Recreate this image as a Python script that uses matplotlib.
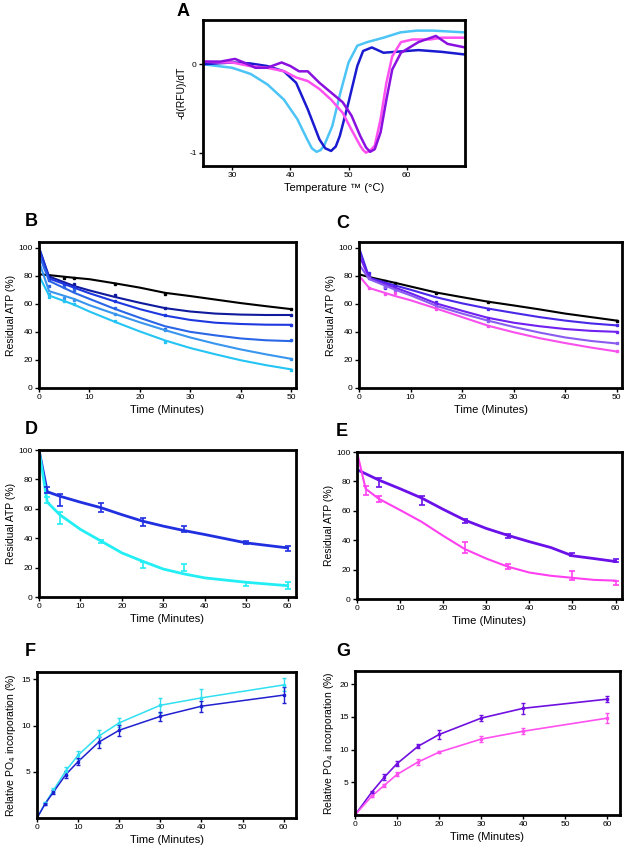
import matplotlib
matplotlib.use('Agg')
import matplotlib.pyplot as plt

plt.rcParams['font.family'] = ['Liberation Sans', 'DejaVu Sans']

# ---------------- panel A : melt curves ----------------
tA_lblue = [25, 30, 33.2, 36.1, 38.9, 41.2, 42.9, 43.7, 44.5, 45.2, 45.8, 47.2, 48.6, 50, 51.5, 53.2, 56, 58.9, 61.7, 64.5, 70]
yA_lblue = [0, -0.04, -0.11, -0.23, -0.40, -0.62, -0.85, -0.95, -0.99, -0.97, -0.92, -0.70, -0.32, 0.02, 0.21, 0.25, 0.30, 0.36, 0.38, 0.38, 0.36]
tA_blue = [25, 30, 33, 36, 38.9, 41, 43, 45, 46, 47, 47.8, 48.5, 50, 51.5, 52.5, 54, 56, 58, 62, 66, 70]
yA_blue = [0, 0.02, 0.01, -0.02, -0.08, -0.21, -0.51, -0.85, -0.95, -0.98, -0.93, -0.81, -0.43, -0.02, 0.15, 0.19, 0.13, 0.14, 0.16, 0.14, 0.11]
tA_purple = [25, 28, 30.5, 32, 34, 36, 38.5, 40, 41.5, 43, 45, 47, 49, 50.5, 52, 53, 53.7, 54.5, 55.5, 56.5, 57.5, 59, 62, 65, 67, 70]
yA_purple = [0.03, 0.03, 0.06, 0.02, -0.04, -0.04, 0.02, -0.02, -0.08, -0.08, -0.21, -0.32, -0.43, -0.58, -0.81, -0.94, -0.99, -0.96, -0.77, -0.40, -0.06, 0.13, 0.25, 0.32, 0.23, 0.19]
tA_pink = [25, 28, 30, 33, 36, 39, 41, 43, 45, 47, 49, 50.5, 52, 52.5, 53, 53.8, 54.5, 55.5, 56.5, 57.5, 59, 61, 64, 66, 70]
yA_pink = [0.03, 0.02, 0.02, -0.02, -0.04, -0.08, -0.15, -0.19, -0.28, -0.40, -0.55, -0.74, -0.92, -0.97, -1.0, -0.97, -0.92, -0.62, -0.21, 0.09, 0.25, 0.28, 0.28, 0.30, 0.30]

# ---------------- panel B ----------------
tB_fit = [0, 2, 7, 10, 15, 20, 25, 30, 35, 40, 45, 50]
yB_fit = {
    'black': [81, 80.4, 78.5, 77.5, 74.6, 71.5, 67.8, 65.5, 63, 60.5, 58.3, 56.2],
    'navy':  [100, 79.4, 72.6, 69.5, 64.9, 60.7, 56.9, 54.5, 53, 52.3, 52, 52],
    'blue':  [100, 78, 71.4, 67.5, 61.7, 56.2, 51.6, 48.5, 46.5, 45.6, 45.1, 45],
    'mid':   [95, 76.3, 67.8, 63.5, 56.4, 50, 44, 40, 37.5, 35.3, 34, 33.4],
    'azure': [90, 69, 63.4, 59, 52.8, 46.8, 41.2, 36, 31.5, 27.5, 24, 20.8],
    'cyan':  [80, 65.9, 59.3, 54.5, 47.2, 40.3, 33.9, 28.5, 24, 19.8, 16.3, 13.3],
}
tB_pts = [2, 5, 7, 15, 25, 50]
yB_pts = {
    'black': [80, 78, 78, 74, 67, 56],
    'navy':  [79, 75, 74, 66, 57, 52],
    'blue':  [77, 74, 72, 62, 52, 45],
    'mid':   [73, 72, 70, 57, 42, 34],
    'azure': [67, 64, 63, 53, 41, 21],
    'cyan':  [65, 62, 60, 48, 33, 13],
}

# ---------------- panel C ----------------
tC_fit = [0, 2, 7, 10, 15, 20, 25, 30, 35, 40, 45, 50]
yC_fit = {
    'black':  [81, 79, 74.9, 72.3, 68, 64.7, 61.5, 58.8, 56, 53, 50.5, 48],
    'violet': [100, 78.5, 73, 70, 64.6, 60.3, 56.6, 53.5, 50.5, 48, 46, 44.6],
    'purple': [95, 78, 71.5, 67.5, 60.2, 55, 50, 46.5, 44, 42, 40.7, 40],
    'lilac':  [88, 77.5, 70, 66, 58.5, 53, 48, 43.5, 39.5, 36, 33.5, 31.7],
    'pink':   [80, 71.2, 65.5, 62.5, 56.6, 50.5, 44.4, 39.7, 35.5, 32, 28.8, 26],
}
tC_pts = [2, 5, 7, 15, 25, 50]
yC_pts = {
    'black':  [79, 76, 75, 68, 61, 48],
    'violet': [82, 71, 72, 61, 56, 45],
    'purple': [80, 72, 71, 60, 50, 40],
    'lilac':  [78, 72, 70, 58, 48, 32],
    'pink':   [71, 67, 68, 56, 44, 26],
}

# ---------------- panel D ----------------
tD_fit = [0, 2, 5, 10, 15, 20, 25, 30, 35, 40, 50, 60]
yD_navy_fit = [100, 71.6, 68.6, 64.5, 60.7, 56, 51.6, 48.2, 45.2, 42.5, 36.8, 33.4]
yD_cyan_fit = [100, 64.5, 56, 46, 38, 30, 24.3, 19, 15.7, 13, 10, 7.7]
tD_pts = [2, 5, 15, 25, 35, 50, 60]
yD_navy = [73, 66, 61, 51, 46, 37, 33]
eD_navy = [2, 4, 3, 3, 2, 1, 2]
yD_cyan = [66, 54, 38, 22, 20, 9, 8]
eD_cyan = [2, 4, 1, 2, 2.5, 1.5, 2.5]

# ---------------- panel E ----------------
tE_fit = [0, 5, 10, 15, 20, 25, 30, 35, 40, 45, 50, 55, 60]
yE_purple_fit = [88, 81, 75, 68.7, 61, 53.7, 48, 43.3, 39, 35, 29.4, 27.5, 25.5]
tE_pink_fit = [0, 2, 5, 10, 15, 20, 25, 30, 35, 40, 45, 50, 55, 60]
yE_pink_fit = [100, 75, 68.3, 60.5, 52.5, 43, 34, 27.5, 22, 18, 15.8, 14.4, 13, 12.5]
tE_purple_pts = [5, 15, 25, 35, 50, 60]
yE_purple = [79, 67, 53, 43, 30, 26]
eE_purple = [3, 3, 1.5, 1.5, 1, 1]
tE_pink_pts = [2, 5, 25, 35, 50, 60]
yE_pink = [74, 68, 35, 22, 16, 11]
eE_pink = [3, 2, 4, 1.5, 3, 1.5]

# ---------------- panel F ----------------
tF = [0, 2, 4, 7, 10, 15, 20, 30, 40, 60]
yF_blue = [0, 1.55, 2.8, 4.7, 6.1, 8.2, 9.5, 11.0, 12.1, 13.3]
eF_blue = [0, 0.1, 0.2, 0.4, 0.4, 0.6, 0.6, 0.5, 0.6, 0.9]
yF_cyan = [0, 1.6, 3.0, 5.1, 6.8, 8.85, 10.3, 12.2, 13.0, 14.4]
eF_cyan = [0, 0.1, 0.2, 0.4, 0.4, 0.7, 0.5, 0.8, 1.0, 0.7]

# ---------------- panel G ----------------
tG = [0, 4, 7, 10, 15, 20, 30, 40, 60]
yG_purple = [0, 3.5, 5.8, 7.85, 10.5, 12.3, 14.8, 16.3, 17.7]
eG_purple = [0, 0.2, 0.4, 0.4, 0.3, 0.7, 0.5, 0.8, 0.5]
yG_pink = [0, 2.9, 4.55, 6.2, 8.1, 9.6, 11.6, 12.8, 14.8]
eG_pink = [0, 0.2, 0.2, 0.3, 0.4, 0.2, 0.5, 0.5, 0.8]

colB = {'black': 'black', 'navy': '#101a9c', 'blue': '#1e38e0', 'mid': '#2a66e6',
        'azure': '#3896ee', 'cyan': '#24c4f4'}
colC = {'black': 'black', 'violet': '#4a28e8', 'purple': '#7020f0', 'lilac': '#8a5cf0',
        'pink': '#f850ec'}

W, H = 625, 855
fig = plt.figure(figsize=(W / 100, H / 100), dpi=100)


def box(l, t, r, b):
    return fig.add_axes([l / W, 1 - b / H, (r - l) / W, (b - t) / H])


def style(ax):
    for s in ax.spines.values():
        s.set_linewidth(2.0)
    ax.tick_params(labelsize=6, length=3, width=1, pad=1.5)


def letter(x, y, s):
    fig.text(x / W, 1 - y / H, s, fontsize=13, fontweight='bold', ha='left', va='center')


# A
ax = box(203, 20, 465, 166)
ax.plot(tA_lblue, yA_lblue, color='#4cc4f6', lw=1.8)
ax.plot(tA_blue, yA_blue, color='#1a1ad0', lw=1.8)
ax.plot(tA_pink, yA_pink, color='#ff50f0', lw=1.8)
ax.plot(tA_purple, yA_purple, color='#8a10e0', lw=1.8)
ax.set_xlim(25, 70)
ax.set_ylim(-1.15, 0.5)
ax.set_xticks([30, 40, 50, 60])
ax.set_yticks([0, -1])
ax.set_yticklabels(['0', '-1'])
ax.set_xlabel('Temperature \u2122 (\u00b0C)', fontsize=8, labelpad=3)
ax.set_ylabel('-d(RFU)/dT', fontsize=7.5, labelpad=2)
style(ax)
letter(177, 11, 'A')

# B
ax = box(39, 242, 296, 388)
for k in yB_fit:
    ax.plot(tB_fit, yB_fit[k], color=colB[k], lw=1.5)
    ax.plot(tB_pts, yB_pts[k], 's', color=colB[k], ms=2)
ax.set_xlim(0, 51)
ax.set_ylim(0, 104)
ax.set_xticks([0, 10, 20, 30, 40, 50])
ax.set_yticks([0, 20, 40, 60, 80, 100])
ax.set_xlabel('Time (Minutes)', fontsize=8, labelpad=3)
ax.set_ylabel('Residual ATP (%)', fontsize=7.5, labelpad=2)
style(ax)
letter(25, 221, 'B')

# C
ax = box(359, 242, 622, 388)
for k in yC_fit:
    ax.plot(tC_fit, yC_fit[k], color=colC[k], lw=1.5)
    ax.plot(tC_pts, yC_pts[k], 's', color=colC[k], ms=2)
ax.set_xlim(0, 51)
ax.set_ylim(0, 104)
ax.set_xticks([0, 10, 20, 30, 40, 50])
ax.set_yticks([0, 20, 40, 60, 80, 100])
ax.set_xlabel('Time (Minutes)', fontsize=8, labelpad=3)
ax.set_ylabel('Residual ATP (%)', fontsize=7.5, labelpad=2)
style(ax)
letter(336, 223, 'C')

# D
ax = box(39, 450, 296, 597)
ax.plot(tD_fit, yD_navy_fit, color='#2030e0', lw=2)
ax.plot(tD_fit, yD_cyan_fit, color='#22eef4', lw=2)
ax.errorbar(tD_pts, yD_navy, yerr=eD_navy, fmt='none', ecolor='#2030e0', elinewidth=1.2, capsize=2, capthick=1.2)
ax.errorbar(tD_pts, yD_cyan, yerr=eD_cyan, fmt='none', ecolor='#22eef4', elinewidth=1.2, capsize=2, capthick=1.2)
ax.set_xlim(0, 62)
ax.set_ylim(0, 100)
ax.set_xticks([0, 10, 20, 30, 40, 50, 60])
ax.set_yticks([0, 20, 40, 60, 80, 100])
ax.set_xlabel('Time (Minutes)', fontsize=8, labelpad=3)
ax.set_ylabel('Residual ATP (%)', fontsize=7.5, labelpad=2)
style(ax)
letter(25, 429, 'D')

# E
ax = box(357, 452, 622, 599)
ax.plot(tE_fit, yE_purple_fit, color='#6a10e8', lw=2)
ax.plot(tE_pink_fit, yE_pink_fit, color='#ff40f0', lw=1.5)
ax.errorbar(tE_purple_pts, yE_purple, yerr=eE_purple, fmt='none', ecolor='#6a10e8', elinewidth=1.2, capsize=2, capthick=1.2)
ax.errorbar(tE_pink_pts, yE_pink, yerr=eE_pink, fmt='none', ecolor='#ff40f0', elinewidth=1.2, capsize=2, capthick=1.2)
ax.set_xlim(0, 61.5)
ax.set_ylim(0, 100)
ax.set_xticks([0, 10, 20, 30, 40, 50, 60])
ax.set_yticks([0, 20, 40, 60, 80, 100])
ax.set_xlabel('Time (Minutes)', fontsize=8, labelpad=3)
ax.set_ylabel('Residual ATP (%)', fontsize=7.5, labelpad=2)
style(ax)
letter(336, 431, 'E')

# F
ax = box(37, 672, 296, 818)
ax.plot(tF, yF_cyan, color='#30e0f0', lw=1.1)
ax.plot(tF, yF_blue, color='#2020d0', lw=1.1)
ax.errorbar(tF[1:], yF_cyan[1:], yerr=eF_cyan[1:], fmt='s', ms=2, color='#30e0f0', elinewidth=1, capsize=1.5)
ax.errorbar(tF[1:], yF_blue[1:], yerr=eF_blue[1:], fmt='s', ms=2, color='#2020d0', elinewidth=1, capsize=1.5)
ax.set_xlim(0, 63)
ax.set_ylim(0, 15.8)
ax.set_xticks([0, 10, 20, 30, 40, 50, 60])
ax.set_yticks([5, 10, 15])
ax.set_xlabel('Time (Minutes)', fontsize=8, labelpad=3)
ax.set_ylabel('Relative PO$_4$ incorporation (%)', fontsize=7.5, labelpad=2)
style(ax)
letter(25, 651, 'F')

# G
ax = box(355, 671, 620, 815)
ax.plot(tG, yG_purple, color='#7010e0', lw=1.2)
ax.plot(tG, yG_pink, color='#ff50f0', lw=1.2)
ax.errorbar(tG[1:], yG_purple[1:], yerr=eG_purple[1:], fmt='s', ms=2, color='#7010e0', elinewidth=1, capsize=1.5)
ax.errorbar(tG[1:], yG_pink[1:], yerr=eG_pink[1:], fmt='s', ms=2, color='#ff50f0', elinewidth=1, capsize=1.5)
ax.set_xlim(0, 63)
ax.set_ylim(0, 22)
ax.set_xticks([0, 10, 20, 30, 40, 50, 60])
ax.set_yticks([5, 10, 15, 20])
ax.set_xlabel('Time (Minutes)', fontsize=8, labelpad=3)
ax.set_ylabel('Relative PO$_4$ incorporation (%)', fontsize=7.5, labelpad=2)
style(ax)
letter(336, 651, 'G')

fig.savefig('out.png', dpi=100)
